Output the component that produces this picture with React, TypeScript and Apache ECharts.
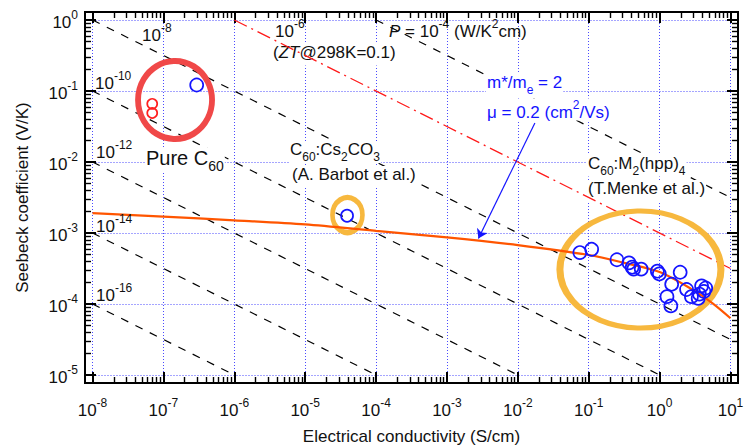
import React, { useEffect, useRef } from 'react';
import * as echarts from 'echarts';

const FONT = '"Liberation Sans", Arial, Helvetica, sans-serif';

// tick label exponents (labels read "10^n")
const xExponents = ['-8', '-7', '-6', '-5', '-4', '-3', '-2', '-1', '0', '1'];
const yExponents = ['-5', '-4', '-3', '-2', '-1', '0'];

// constant power-factor lines (end points), W/K^2 cm
const pLine1e8 = [[1e-8, 1], [10, 3.16e-5]];
const pLine1e10 = [[1e-8, 0.1], [1, 1e-5]];
const pLine1e12 = [[1e-8, 0.01], [0.01, 1e-5]];
const pLine1e14 = [[1e-8, 1e-3], [1e-4, 1e-5]];
const pLine1e16 = [[1e-8, 1e-4], [1e-6, 1e-5]];
const pLine1e4 = [[1e-4, 1], [10, 3.16e-3]];
// ZT@298K = 0.1 line
const ztLine = [[1e-6, 1], [10, 3.16e-4]];

// model curve (m*/me = 2, mu = 0.2 cm2/Vs)
const modelCond = [1e-8, 1e-7, 1e-6, 1e-5, 1e-4, 1e-3, 1e-2, 1e-1, 0.316, 1, 2.95, 5.6, 10];
const modelSeebeck = [1.9e-3, 1.7e-3, 1.51e-3, 1.32e-3, 1.07e-3, 8.7e-4, 6.76e-4, 4.9e-4, 3.8e-4, 2.82e-4, 1.58e-4, 1.02e-4, 6.3e-5];

// C60:M2(hpp)4 (T. Menke et al.)
const menkeCond = [0.075, 0.11, 0.25, 0.37, 0.41, 0.43, 0.55, 0.93, 0.99, 1.95, 1.48, 1.27, 1.44, 2.4, 2.81, 3.5, 3.91, 4.21, 3.64, 4.47];
const menkeSeebeck = [5.3e-4, 5.9e-4, 4.2e-4, 3.8e-4, 3.3e-4, 3.1e-4, 3.1e-4, 2.9e-4, 2.65e-4, 2.8e-4, 1.9e-4, 1.27e-4, 9.4e-5, 1.6e-4, 1.27e-4, 1.2e-4, 1.8e-4, 1.5e-4, 1.38e-4, 1.68e-4];

// C60:Cs2CO3 (A. Barbot et al.)
const barbotCond = [3.9e-5];
const barbotSeebeck = [1.75e-3];

// Pure C60
const pureBlueCond = [2.95e-7];
const pureBlueSeebeck = [0.1215];
const pureRedCond = [6.96e-8, 6.96e-8];
const pureRedSeebeck = [0.066, 0.049];

// highlight rings (centres)
const ringPure = [1.46e-7, 0.0747];
const ringBarbot = [3.95e-5, 1.79e-3];
const ringMenke = [0.536, 3.06e-4];

// arrow from the model label to the curve
const arrowStart = [0.0174, 0.0354];
const arrowEnd = [2.78e-3, 8.37e-4];

const zip = (a: number[], b: number[]) => a.map((v, i) => [v, b[i]]);

const BLUE = '#1414ff';
const TXT = '#111';

const supRich = (fill: string) => ({
  b: { fontSize: 17, lineHeight: 22, verticalAlign: 'bottom', fontFamily: FONT, fill },
  i: { fontSize: 17, lineHeight: 22, verticalAlign: 'bottom', fontFamily: FONT, fontStyle: 'italic', fill },
  s: { fontSize: 12, lineHeight: 12, verticalAlign: 'top', fontFamily: FONT, fill },
});
const subRich = (fill: string, size = 17, subSize = 12, lh = 22) => ({
  b: { fontSize: size, lineHeight: lh, verticalAlign: 'top', fontFamily: FONT, fill },
  i: { fontSize: size, lineHeight: lh, verticalAlign: 'top', fontFamily: FONT, fontStyle: 'italic', fill },
  u: { fontSize: subSize, lineHeight: subSize, verticalAlign: 'bottom', fontFamily: FONT, fill },
});

const txt = (x: number, y: number, text: string, rich: any, bg = false, z = 10) => ({
  type: 'text',
  x,
  y,
  z,
  silent: true,
  style: {
    text,
    rich,
    align: 'left',
    verticalAlign: 'top',
    fontFamily: FONT,
    fontSize: 17,
    ...(bg ? { backgroundColor: '#fff', padding: [0, 1, 0, 1] } : {}),
  },
});

const axisRich = {
  b: { fontSize: 17, lineHeight: 22, verticalAlign: 'bottom', fontFamily: FONT, color: TXT },
  s: { fontSize: 12, lineHeight: 12, verticalAlign: 'top', fontFamily: FONT, color: TXT },
};

const fmt = (list: string[]) => (v: number) => {
  const e = Math.round(Math.log10(v));
  const lab = list.find((s) => Number(s) === e);
  return lab !== undefined ? `{b|10}{s|${lab}}` : '';
};

const tickCfg = {
  axisLine: { show: false },
  axisTick: { show: true, inside: true, length: 11, lineStyle: { color: '#000', width: 2 } },
  minorTick: { show: true, splitNumber: 9, length: 6, lineStyle: { color: '#000', width: 1.4 } },
};
const gridLine = { show: true, lineStyle: { color: '#4a4aff', type: [1, 2], width: 1 } };

const dashed = (data: number[][]) => ({
  type: 'line',
  data,
  symbol: 'none',
  silent: true,
  lineStyle: { color: '#000', width: 1.2, type: [8, 8] },
  z: 2,
});

const ring = (c: number[], w: number, h: number, color: string, bw: number) => ({
  type: 'scatter',
  data: [c],
  symbol: 'circle',
  symbolSize: [w, h],
  silent: true,
  itemStyle: { color: 'rgba(0,0,0,0)', borderColor: color, borderWidth: bw, opacity: 1 },
  z: 4,
});

const points = (data: number[][], color: string, size: number) => ({
  type: 'scatter',
  data,
  symbol: 'circle',
  symbolSize: size,
  silent: true,
  itemStyle: { color: 'rgba(0,0,0,0)', borderColor: color, borderWidth: 1.7, opacity: 1 },
  z: 6,
});

const option: any = {
  animation: false,
  backgroundColor: '#fff',
  textStyle: { fontFamily: FONT },
  grid: { left: 92.5, top: 20, right: 19.5, bottom: 73, outerBoundsMode: 'none', containLabel: false },
  xAxis: [
    {
      type: 'log', logBase: 10, min: 1e-8, max: 10, position: 'bottom', offset: 8,
      ...tickCfg,
      axisLabel: { margin: 14, formatter: fmt(xExponents), rich: axisRich, color: TXT },
      splitLine: gridLine,
      name: 'Electrical conductivity (S/cm)', nameLocation: 'middle', nameGap: 45,
      nameTextStyle: { fontSize: 17, color: TXT, fontFamily: FONT },
    },
    {
      type: 'log', logBase: 10, min: 1e-8, max: 10, position: 'top', offset: 8,
      ...tickCfg,
      axisLabel: { show: false },
      splitLine: { show: false },
    },
  ],
  yAxis: [
    {
      type: 'log', logBase: 10, min: 1e-5, max: 1, position: 'left', offset: 7.5,
      ...tickCfg,
      axisLabel: { margin: 7, formatter: fmt(yExponents), rich: axisRich, color: TXT },
      splitLine: gridLine,
      name: 'Seebeck coefficient (V/K)', nameLocation: 'middle', nameGap: 54,
      nameTextStyle: { fontSize: 17, color: TXT, fontFamily: FONT },
    },
    {
      type: 'log', logBase: 10, min: 1e-5, max: 1, position: 'right', offset: 7.5,
      ...tickCfg,
      axisLabel: { show: false },
      splitLine: { show: false },
    },
  ],
  series: [
    dashed(pLine1e8),
    dashed(pLine1e10),
    dashed(pLine1e12),
    dashed(pLine1e14),
    dashed(pLine1e16),
    dashed(pLine1e4),
    {
      type: 'line', data: ztLine, symbol: 'none', silent: true, z: 3,
      lineStyle: { color: '#ff1a1a', width: 1.3, type: [14, 5, 2, 5] },
    },
    ring(ringPure, 74, 78, '#f04848', 6),
    ring(ringBarbot, 30, 35, '#f7b83e', 5),
    ring(ringMenke, 161, 117, '#f7b83e', 6),
    {
      type: 'line', data: zip(modelCond, modelSeebeck), symbol: 'none', silent: true, smooth: 0.3, z: 5,
      lineStyle: { color: '#ff5500', width: 2.2 },
      markLine: {
        silent: true,
        symbol: ['none', 'arrow'],
        symbolSize: 9,
        label: { show: false },
        lineStyle: { color: BLUE, width: 1.2, type: 'solid' },
        data: [[{ coord: arrowStart }, { coord: arrowEnd }]],
      },
    },
    points(zip(menkeCond, menkeSeebeck), BLUE, 13),
    points(zip(barbotCond, barbotSeebeck), BLUE, 12),
    points(zip(pureBlueCond, pureBlueSeebeck), BLUE, 13),
    points(zip(pureRedCond, pureRedSeebeck), '#ff2020', 10),
  ],
  graphic: [
    {
      type: 'rect', silent: true, z: 50,
      shape: { x: 85, y: 12, width: 653, height: 371 },
      style: { fill: 'none', stroke: '#000', lineWidth: 2 },
    },
    txt(142, 21.5, '{b|10}{s|-8}', supRich(TXT)),
    txt(275, 18, '{b|10}{s|-6}', supRich(TXT)),
    txt(95, 70, '{b|10}{s|-10}', supRich(TXT)),
    txt(96, 139, '{b|10}{s|-12}', supRich(TXT)),
    txt(96, 213, '{b|10}{s|-14}', supRich(TXT)),
    txt(96, 281.5, '{b|10}{s|-16}', supRich(TXT)),
    txt(389, 18, '{i|P}{b| = 10}{s|-4}{b| (W/K}{s|2}{b|cm)}', supRich(TXT)),
    txt(272, 43.5, '{b|(}{i|ZT}{b|@298K=0.1)}', subRich(TXT), true, 2.5),
    txt(145, 148, '{b|Pure C}{u|60}', subRich(TXT, 20, 14, 25), true, 2.5),
    txt(289, 141, '{b|C}{u|60}{b|:Cs}{u|2}{b|CO}{u|3}', subRich(TXT), true, 2.5),
    txt(291, 166, '{b|(A. Barbot et al.)}', subRich(TXT), true, 2.5),
    txt(587, 154.5, '{b|C}{u|60}{b|:M}{u|2}{b|(hpp)}{u|4}', subRich(TXT), true, 2.5),
    txt(587, 180, '{b|(T.Menke et al.)}', subRich(TXT), true, 2.5),
    txt(486, 74, '{b|m*/m}{u|e}{b| = 2}', subRich(BLUE), true, 2.5),
    txt(486, 98.5, '{b|\u03bc = 0.2 (cm}{s|2}{b|/Vs)}', supRich(BLUE), true, 2.5),
  ],
};

export default function App() {
  const ref = useRef<HTMLDivElement>(null);
  useEffect(() => {
    const chart = echarts.init(ref.current as HTMLDivElement, null, { renderer: 'svg' });
    chart.setOption(option);
    return () => chart.dispose();
  }, []);
  return (
    <div
      ref={ref}
      style={{ position: 'fixed', left: 0, top: 0, width: 750, height: 448, background: '#fff' }}
    />
  );
}
